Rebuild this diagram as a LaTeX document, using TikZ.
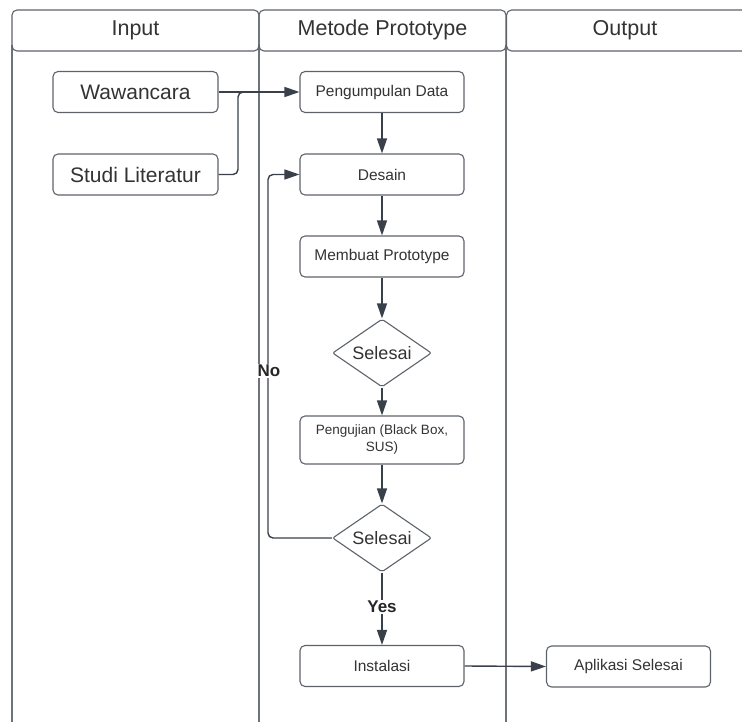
\documentclass[tikz,border=0pt]{standalone}
\usepackage{fontspec}
\setmainfont{Liberation Sans}
\usetikzlibrary{arrows.meta,shapes.geometric}
\definecolor{linec}{HTML}{3A404A}
\definecolor{boxc}{HTML}{5E636B}
\definecolor{txtc}{HTML}{333333}
\definecolor{lanec}{HTML}{6E737A}
\tikzset{
  hdr/.style={draw=boxc, line width=1.1pt, rounded corners=5pt, inner sep=0pt, text=txtc, font=\fontsize{21.5}{24}\selectfont},
  hdrtxt/.style={inner sep=0pt, text=txtc, font=\fontsize{21.5}{24}\selectfont, text height=15.5pt, text depth=4.5pt},
  inbox/.style={draw=boxc, line width=1.1pt, rounded corners=5pt, minimum width=165pt, minimum height=41pt, inner sep=0pt, text=txtc, font=\fontsize{21}{24}\selectfont},
  pbox/.style={draw=boxc, line width=1.1pt, rounded corners=5pt, minimum width=164pt, minimum height=41pt, inner sep=0pt, text=txtc, font=\fontsize{15.5}{18}\selectfont, align=center},
  dec/.style={draw=boxc, line width=1.1pt, diamond, aspect=1.5, inner sep=0pt, minimum width=99pt, minimum height=68pt, text=txtc, font=\fontsize{18}{21}\selectfont, rounded corners=2pt},
  conn/.style={draw=linec, line width=1.4pt, -{Triangle[length=15pt,width=10pt]}},
  lbl/.style={fill=white, inner sep=1pt, text=black!85, font=\bfseries\fontsize{17}{20}\selectfont},
  lane/.style={draw=lanec, line width=1.1pt}
}
\begin{document}
\begin{tikzpicture}[x=1pt,y=-1pt]
\useasboundingbox (0,0) rectangle (742,722);
\fill[white] (0,0) rectangle (742,722);
% lane lines
\draw[lane] (12,45) -- (12,722);
\draw[lane] (259,45) -- (259,722);
\draw[lane] (506,45) -- (506,722);
% headers
\node[hdr, minimum width=247pt, minimum height=41pt] (hin) at (135.5,30.5) {};
\node[hdr, minimum width=247pt, minimum height=41pt] (hmet) at (382.5,30.5) {};
\node[hdr, minimum width=247pt, minimum height=41pt, anchor=west] (hout) at (506,30.5) {};
\node[hdrtxt] (hint) at (135.5,30.5) {Input};
\node[hdrtxt] (hmett) at (382.5,30.5) {Metode Prototype};
\node[hdrtxt] (houtt) at (625,30.5) {Output};
% input boxes
\node[inbox] (waw) at (135.5,92) {Wawancara};
\node[inbox] (stu) at (135.5,174.5) {Studi Literatur};
% process boxes
\node[pbox] (peng) at (382,92) {Pengumpulan Data};
\node[pbox] (des) at (382,174.5) {Desain};
\node[pbox] (mem) at (382,256.5) {Membuat Prototype};
\node[dec] (d1) at (382,353) {Selesai};
\node[pbox, minimum height=48pt, font=\fontsize{13.5}{17}\selectfont] (uji) at (382,440) {Pengujian (Black Box,\\SUS)};
\node[dec] (d2) at (382,538) {Selesai};
\node[pbox] (ins) at (382,666) {Instalasi};
\node[pbox] (apl) at (628.5,666.5) {Aplikasi Selesai};
% connectors
\draw[conn] (waw.east) -- (peng.west);
\draw[draw=linec, line width=1.4pt, rounded corners=5pt] (stu.east) -- (238,174.5) -- (238,92) -- (252,92);
\draw[conn] (peng.south) -- (des.north);
\draw[conn] (des.south) -- (mem.north);
\draw[conn] (mem.south) -- (d1.north);
\draw[conn] (d1.south) -- (uji.north);
\draw[conn] (uji.south) -- (d2.north);
\draw[conn, rounded corners=5pt] (d2.west) -- (268,538) -- (268,174.5) -- (des.west);
\node[lbl] (no) at (269,371) {No};
\draw[conn] (d2.south) -- (ins.north);
\node[lbl] (yes) at (382,607) {Yes};
\draw[conn] (ins.east) -- (apl.west);
\end{tikzpicture}
\end{document}
